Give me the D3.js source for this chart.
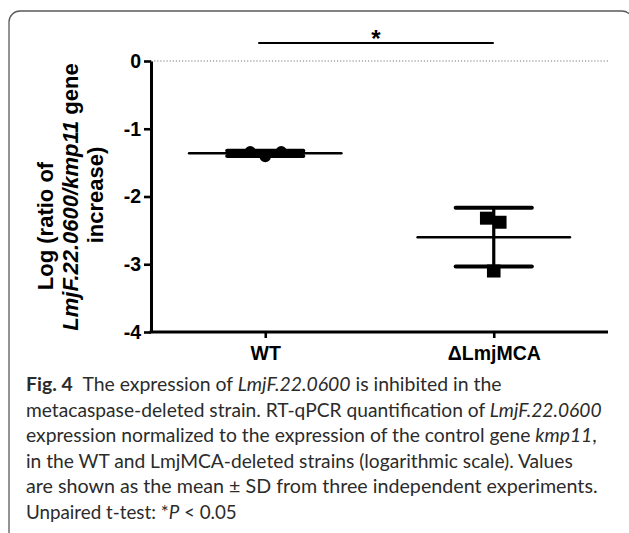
<!DOCTYPE html>
<html>
<head>
<meta charset="utf-8">
<script src="https://cdn.jsdelivr.net/npm/d3@7"></script>
<style>
  html, body { margin: 0; padding: 0; background: #fff; }
  svg { display: block; }
</style>
</head>
<body>
<svg id="chart" width="629" height="533"></svg>
<script>
// ---- data ----
const categories = ["WT", "\u0394LmjMCA"];
const wtValues = [-1.34, -1.41, -1.34];
const mcaValues = [-2.32, -2.38, -3.10];
const yTickValues = [0, -1, -2, -3, -4];
const yTickLabels = ["0", "-1", "-2", "-3", "-4"];
const jitterWT = [-15, 0, 16];
const jitterMCA = [-7, 6, 0];
const significanceLabel = "*";
const yTitleLines = ["Log (ratio of", "LmjF.22.0600/kmp11 gene", "increase)"];

const svg = d3.select("#chart");
const axisFont = "'Liberation Sans', Arial, Helvetica, sans-serif";
const capFont = "Lato, 'Open Sans', sans-serif";

// frame
svg.append("rect")
  .attr("x", 9).attr("y", 11)
  .attr("width", 624).attr("height", 532)
  .attr("rx", 11).attr("ry", 11)
  .attr("fill", "none").attr("stroke", "#5a5a5a").attr("stroke-width", 1.3);

const plot = { left: 151, right: 608, top: 61, bottom: 332 };

const x = d3.scalePoint().domain(categories).range([plot.left, plot.right]).padding(0.5);
const y = d3.scaleLinear().domain([-4, 0]).range([plot.bottom, plot.top]);
const step = x.step();

// zero dotted line
svg.append("line")
  .attr("x1", plot.left).attr("x2", plot.right)
  .attr("y1", y(0)).attr("y2", y(0))
  .attr("stroke", "#777").attr("stroke-width", 1.1)
  .attr("stroke-dasharray", "1.2,1.9");

// y axis
const yAxis = svg.append("g")
  .attr("transform", `translate(${plot.left},0)`)
  .call(d3.axisLeft(y).tickValues(yTickValues)
    .tickFormat((d, i) => yTickLabels[i])
    .tickSize(7).tickSizeOuter(0).tickPadding(3));
yAxis.select(".domain").attr("stroke", "#000").attr("stroke-width", 3);
yAxis.selectAll(".tick line").attr("stroke", "#000").attr("stroke-width", 2.6);
yAxis.selectAll(".tick text")
  .attr("font-family", axisFont).attr("font-weight", "bold")
  .attr("font-size", 19.5).attr("fill", "#000");

// x axis
const xAxis = svg.append("g")
  .attr("transform", `translate(0,${plot.bottom})`)
  .call(d3.axisBottom(x).tickSize(6).tickSizeOuter(0).tickPadding(8));
xAxis.select(".domain").attr("stroke", "#000").attr("stroke-width", 3)
  .attr("d", `M${plot.left - 1.5},0H${plot.right}`);
xAxis.selectAll(".tick line").attr("stroke", "#000").attr("stroke-width", 2.6);
xAxis.selectAll(".tick text")
  .attr("font-family", axisFont).attr("font-weight", "bold")
  .attr("font-size", 19.5).attr("fill", "#000");

// y title (three lines, rotated)
function titleLine(centerY, baseX, parts) {
  const t = svg.append("text")
    .attr("transform", `translate(${baseX},${centerY}) rotate(-90)`)
    .attr("font-family", axisFont).attr("font-weight", "bold")
    .attr("font-size", 22).attr("text-anchor", "middle").attr("fill", "#000");
  parts.forEach(([s, it]) => {
    const sp = t.append("tspan").text(s);
    if (it) sp.attr("font-style", "italic");
  });
  return t;
}
const l2parts = yTitleLines[1].split(" ");
titleLine(226, 53, [[yTitleLines[0], false]]);
titleLine(197, 78, [[l2parts[0], true], [" " + l2parts[1], false]]);
titleLine(195, 103, [[yTitleLines[2], false]]);

// groups
const groups = [
  { name: categories[0], values: wtValues, jitter: jitterWT, shape: "circle" },
  { name: categories[1], values: mcaValues, jitter: jitterMCA, shape: "square" }
];

groups.forEach(g => {
  const cx = x(g.name);
  const m = d3.mean(g.values);
  const sd = d3.deviation(g.values);
  const gg = svg.append("g");
  g.values.forEach((v, i) => {
    if (g.shape === "circle") {
      gg.append("circle").attr("cx", cx + g.jitter[i]).attr("cy", y(v))
        .attr("r", 5.7).attr("fill", "#000");
    } else {
      gg.append("rect").attr("x", cx + g.jitter[i] - 6.8).attr("y", y(v) - 6.5)
        .attr("width", 13.6).attr("height", 13).attr("fill", "#000");
    }
  });
  gg.append("line").attr("x1", cx).attr("x2", cx)
    .attr("y1", y(m + sd)).attr("y2", y(m - sd))
    .attr("stroke", "#000").attr("stroke-width", 3.2);
  [m + sd, m - sd].forEach(v => {
    gg.append("line").attr("x1", cx - step / 6).attr("x2", cx + step / 6)
      .attr("y1", y(v)).attr("y2", y(v))
      .attr("stroke", "#000").attr("stroke-width", 4).attr("stroke-linecap", "round");
  });
  gg.append("line").attr("x1", cx - step / 3).attr("x2", cx + step / 3)
    .attr("y1", y(m)).attr("y2", y(m))
    .attr("stroke", "#000").attr("stroke-width", 2.5).attr("stroke-linecap", "round");
});

// significance bar
const sigY = 43;
svg.append("line")
  .attr("x1", x(categories[0]) - 7).attr("x2", x(categories[1]))
  .attr("y1", sigY).attr("y2", sigY)
  .attr("stroke", "#000").attr("stroke-width", 2);
svg.append("text")
  .attr("x", (x(categories[0]) - 7 + x(categories[1])) / 2)
  .attr("y", sigY + 4)
  .attr("font-family", axisFont).attr("font-weight", "bold")
  .attr("font-size", 24).attr("text-anchor", "middle").attr("fill", "#000")
  .text(significanceLabel);

// caption
const captionLines = [
  [["b", "Fig.\u00a04"], ["n", "\u2002The expression of "], ["i", "LmjF.22.0600"], ["n", " is inhibited in the"]],
  [["n", "metacaspase-deleted strain. RT-qPCR quantification of "], ["i", "LmjF.22.0600"]],
  [["n", "expression normalized to the expression of the control gene "], ["i", "kmp11"], ["n", ","]],
  [["n", "in the WT and LmjMCA-deleted strains (logarithmic scale). Values"]],
  [["n", "are shown as the mean \u00b1 SD from three independent experiments."]],
  [["n", "Unpaired t-test: *"], ["i", "P"], ["n", " < 0.05"]]
];
const captionWidths = [476, 576, 571, 547, 572, 211];
const capX = 26, capY0 = 391, capDY = 25.6;
captionLines.forEach((parts, li) => {
  const t = svg.append("text")
    .attr("font-family", capFont).attr("font-size", 19.5).attr("fill", "#2b2b2b");
  parts.forEach(([k, s]) => {
    const sp = t.append("tspan").text(s);
    if (k === "b") sp.attr("font-weight", "bold");
    if (k === "i") sp.attr("font-style", "italic");
  });
  const w = t.node().getComputedTextLength();
  const sx = captionWidths[li] / w;
  t.attr("transform", `translate(${capX},${capY0 + li * capDY}) scale(${sx},1)`);
});
</script>
</body>
</html>
